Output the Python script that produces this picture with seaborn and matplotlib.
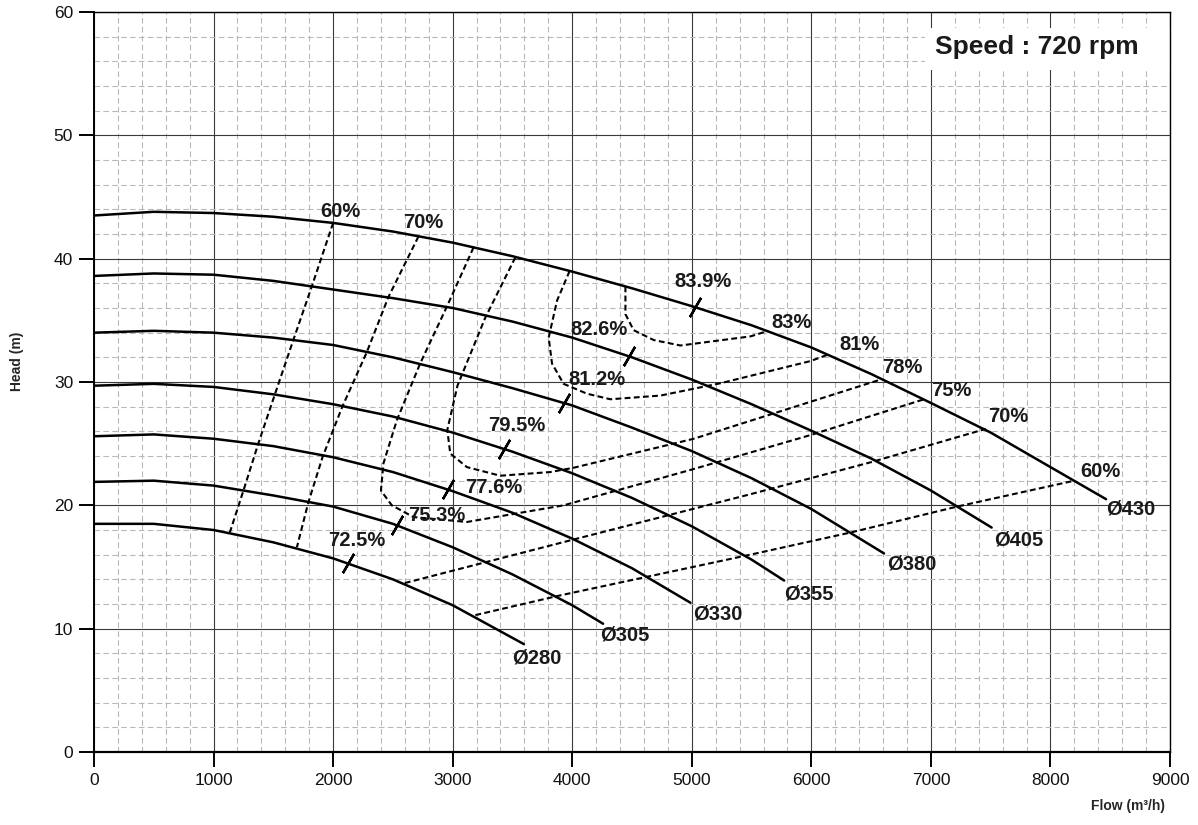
import numpy as np
import pandas as pd
import seaborn as sns
import matplotlib.pyplot as plt
from matplotlib.patches import Rectangle
from matplotlib.ticker import MultipleLocator

# impeller curves (flow m3/h, head m)
flow_430 = [0, 500, 1000, 1500, 2000, 2500, 3000, 3500, 4000, 4500, 5000, 5500, 6000, 6500, 7000, 7500, 8000, 8465]
head_430 = [43.5, 43.8, 43.7, 43.4, 42.9, 42.2, 41.3, 40.2, 38.95, 37.6, 36.15, 34.6, 32.8, 30.65, 28.3, 25.9, 23.1, 20.5]
flow_405 = [0, 500, 1000, 1500, 2000, 2500, 3000, 3500, 4000, 4500, 5000, 5500, 6000, 6500, 7000, 7508]
head_405 = [38.6, 38.8, 38.7, 38.2, 37.5, 36.8, 36.0, 34.9, 33.6, 32.0, 30.2, 28.2, 26.05, 23.8, 21.2, 18.2]
flow_380 = [0, 500, 1000, 1500, 2000, 2500, 3000, 3500, 4000, 4500, 5000, 5500, 6000, 6608]
head_380 = [34.0, 34.15, 34.0, 33.6, 33.0, 32.0, 30.8, 29.5, 28.1, 26.3, 24.4, 22.2, 19.7, 16.1]
flow_355 = [0, 500, 1000, 1500, 2000, 2500, 3000, 3500, 4000, 4500, 5000, 5500, 5773]
head_355 = [29.7, 29.85, 29.6, 29.0, 28.2, 27.2, 25.9, 24.35, 22.6, 20.6, 18.3, 15.6, 13.9]
flow_330 = [0, 500, 1000, 1500, 2000, 2500, 3000, 3500, 4000, 4500, 4989]
head_330 = [25.6, 25.75, 25.4, 24.8, 23.9, 22.7, 21.15, 19.4, 17.3, 14.9, 12.1]
flow_305 = [0, 500, 1000, 1500, 2000, 2500, 3000, 3500, 4000, 4258]
head_305 = [21.9, 22.0, 21.6, 20.8, 19.9, 18.5, 16.6, 14.4, 11.9, 10.4]
flow_280 = [0, 500, 1000, 1500, 2000, 2500, 3000, 3595]
head_280 = [18.5, 18.5, 18.0, 17.0, 15.7, 14.0, 11.9, 8.75]

impellers = ["Ø280", "Ø305", "Ø330", "Ø355", "Ø380", "Ø405", "Ø430"]
imp_flows = [flow_280, flow_305, flow_330, flow_355, flow_380, flow_405, flow_430]
imp_heads = [head_280, head_305, head_330, head_355, head_380, head_405, head_430]

# efficiency iso-lines
eff60_left_q = [2000, 1820, 1667, 1513, 1374, 1250, 1136]
eff60_left_h = [42.9, 37.7, 33.4, 29.0, 25.0, 21.2, 17.8]
eff70_left_q = [2714, 2463, 2281, 2077, 1913, 1793, 1697]
eff70_left_h = [41.8, 36.9, 32.4, 28.0, 23.95, 20.25, 16.6]
eff75_q = [3174, 2951, 2728, 2533, 2421, 2400, 2491, 2672, 3119, 3928, 5000, 5994, 6943]
eff75_h = [40.9, 36.1, 31.5, 26.9, 23.4, 21.2, 20.0, 19.05, 18.65, 20.0, 22.9, 25.7, 28.6]
eff78_q = [3524, 3272, 3040, 2955, 2980, 3119, 3398, 3817, 4013, 5017, 5994, 6580]
eff78_h = [40.1, 35.2, 29.7, 26.1, 24.2, 23.1, 22.4, 22.7, 23.05, 25.4, 28.4, 30.2]
eff81_q = [3978, 3873, 3803, 3831, 3928, 4124, 4319, 4738, 5240, 5994, 6134]
eff81_h = [39.0, 36.6, 33.6, 31.5, 29.85, 29.05, 28.6, 28.9, 29.9, 31.7, 32.2]
eff83_q = [4445, 4445, 4514, 4682, 4905, 5492, 5640]
eff83_h = [37.75, 35.5, 34.2, 33.4, 32.96, 33.7, 34.15]
eff70_right_q = [2600, 4000, 5490, 6500, 7460]
eff70_right_h = [13.7, 17.2, 20.9, 23.5, 26.2]
eff60_right_q = [3190, 3900, 5490, 6330, 7220, 8200]
eff60_right_h = [11.1, 12.7, 16.0, 17.8, 19.9, 22.0]

contours = ["60% L", "70% L", "75%", "78%", "81%", "83%", "70% R", "60% R"]
cont_q = [eff60_left_q, eff70_left_q, eff75_q, eff78_q, eff81_q, eff83_q, eff70_right_q, eff60_right_q]
cont_h = [eff60_left_h, eff70_left_h, eff75_h, eff78_h, eff81_h, eff83_h, eff70_right_h, eff60_right_h]

# best efficiency marks on each impeller
bep_q = [2127, 2533, 2965, 3426, 3928, 4472, 5031]
bep_h = [15.3, 18.4, 21.3, 24.6, 28.3, 32.1, 36.06]
bep_labels = ["72.5%", "75.3%", "77.6%", "79.5%", "81.2%", "82.6%", "83.9%"]

df_imp = pd.concat([pd.DataFrame({"flow": q, "head": h, "dia": d})
                    for q, h, d in zip(imp_flows, imp_heads, impellers)])
df_eff = pd.concat([pd.DataFrame({"flow": q, "head": h, "line": c})
                    for q, h, c in zip(cont_q, cont_h, contours)])

sns.set_theme(style="white")
plt.rcParams['font.family'] = ['Liberation Sans', 'DejaVu Sans']

fig = plt.figure(figsize=(11.98, 8.25), dpi=100)
ax = fig.add_axes([94 / 1198, 73 / 825, 1076 / 1198, 740 / 825])

sns.lineplot(data=df_imp, x="flow", y="head", units="dia", estimator=None, sort=False,
             color="black", lw=1.8, ax=ax, legend=False, solid_joinstyle="round")
sns.lineplot(data=df_eff, x="flow", y="head", units="line", estimator=None, sort=False,
             color="black", lw=1.5, linestyle=(0, (2.8, 1.6)), ax=ax, legend=False)

ax.plot(bep_q, bep_h, ls="none", marker=(2, 2, -30), ms=16, mew=1.7, color="black")

ax.set_xlim(0, 9000)
ax.set_ylim(0, 60)
ax.xaxis.set_major_locator(MultipleLocator(1000))
ax.xaxis.set_minor_locator(MultipleLocator(200))
ax.yaxis.set_major_locator(MultipleLocator(10))
ax.yaxis.set_minor_locator(MultipleLocator(2))
ax.set_axisbelow(True)
ax.grid(which="major", color="#3a3a3a", lw=0.8, ls="-")
ax.grid(which="minor", color="#b8b8b8", lw=0.8, ls=(0, (5, 3)))
ax.tick_params(which="major", direction="out", length=11, width=1.4, color="black",
               labelsize=12.5, pad=4, left=True, bottom=True, labelcolor="#111111")
ax.tick_params(which="minor", length=0)
for s in ax.spines.values():
    s.set_color("black")
    s.set_linewidth(1.0)
ax.spines["left"].set_linewidth(1.4)
ax.spines["bottom"].set_linewidth(1.6)

ax.set_xlabel("Flow (m³/h)", fontsize=10, fontweight="bold", ha="right")
ax.xaxis.set_label_coords(0.995, -0.063)
ax.set_ylabel("Head (m)", fontsize=10, fontweight="bold")
ax.yaxis.set_label_coords(-0.0646, 0.528)

lab = dict(fontsize=14.5, fontweight="bold", color="#1a1a1a", textcoords="offset pixels")

# impeller names at the end of each curve
imp_offsets = [(-12, -14), (-3, -11), (3, -11), (0, -13), (3, -11), (3, -12), (0, -10)]
for q, h, name, off in zip(imp_flows, imp_heads, impellers, imp_offsets):
    ax.annotate(name, (q[-1], h[-1]), xytext=off, ha="left", va="center", **lab)

# BEP labels
bep_offsets = [(8, 23), (40, 10), (45, 2), (13, 23), (33, 23), (-30, 27), (8, 26)]
for q, h, t, off in zip(bep_q, bep_h, bep_labels, bep_offsets):
    ax.annotate(t, (q, h), xytext=off, ha="center", va="center", **lab)

# efficiency line labels
eff_text = ["60%", "70%", "75%", "78%", "81%", "83%", "70%", "60%"]
eff_anchor = ["start", "start", "end", "end", "end", "end", "end", "end"]
eff_offsets = [(-13, 11), (-15, 14), (7, 9), (1, 12), (12, 10), (3, 8), (2, 12), (6, 9)]
for q, h, t, a, off in zip(cont_q, cont_h, eff_text, eff_anchor, eff_offsets):
    i = 0 if a == "start" else -1
    ax.annotate(t, (q[i], h[i]), xytext=off, ha="left", va="center", **lab)

ax.add_patch(Rectangle((0.772, 0.9216), 0.2277, 0.0568, transform=ax.transAxes,
                       facecolor="white", edgecolor="none", zorder=1))
ax.text(0.876, 0.953, "Speed : 720 rpm", transform=ax.transAxes, ha="center", va="center",
        fontsize=19, fontweight="bold", color="#1a1a1a", zorder=3)

fig.savefig("out.png", dpi=100)
